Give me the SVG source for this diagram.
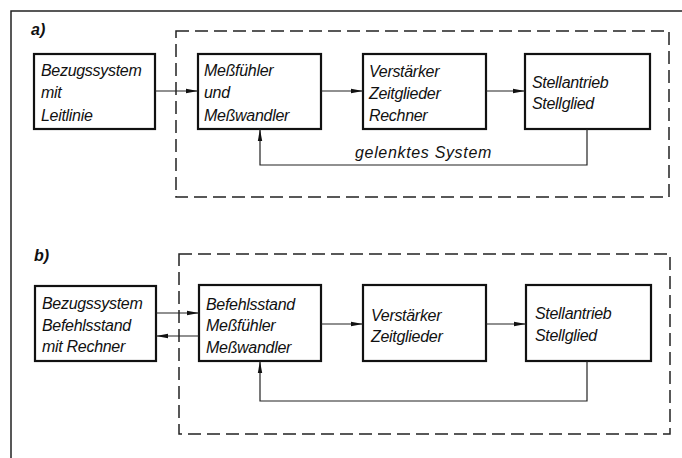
<svg xmlns="http://www.w3.org/2000/svg" width="682" height="458" viewBox="0 0 682 458">
<defs>
<style>
.box{fill:#fff;stroke:#111;stroke-width:2.2}
.dash{fill:none;stroke:#222;stroke-width:1.5;stroke-dasharray:13 6}
.frame{fill:none;stroke:#222;stroke-width:1.5}
.con{fill:none;stroke:#222;stroke-width:1.2}
text{font-family:"Liberation Sans",Arial,sans-serif;font-style:italic;font-size:16px;letter-spacing:-0.3px;fill:#111}
.lbl{font-weight:bold;font-size:16px;letter-spacing:0}
</style>
<marker id="ah" viewBox="0 0 12 6" refX="12" refY="3" markerWidth="12" markerHeight="6" markerUnits="userSpaceOnUse" orient="auto">
<path d="M0,0.8 L12,3 L0,5.2 Z" fill="#111"/>
</marker>
</defs>
<rect width="682" height="458" fill="#fff"/>
<path class="frame" d="M11,458 V11 H682"/>

<text class="lbl" x="31" y="35">a)</text>
<rect class="dash" x="176" y="31" width="493" height="166"/>
<g id="a1"><rect class="box" x="34" y="54" width="121" height="75"/>
<text x="41" y="76">Bezugssystem</text><text x="41" y="98">mit</text><text x="41" y="121">Leitlinie</text></g>
<g id="a2"><rect class="box" x="198" y="54" width="123" height="75"/>
<text x="204" y="76">Meßfühler</text><text x="204" y="98">und</text><text x="204" y="121">Meßwandler</text></g>
<g id="a3"><rect class="box" x="363" y="54" width="123" height="75"/>
<text x="369" y="77">Verstärker</text><text x="369" y="99">Zeitglieder</text><text x="369" y="121">Rechner</text></g>
<g id="a4"><rect class="box" x="525" y="54" width="125" height="75"/>
<text x="532" y="88">Stellantrieb</text><text x="532" y="109">Stellglied</text></g>
<text x="355" y="158" textLength="136" lengthAdjust="spacing">gelenktes System</text>

<text class="lbl" x="34" y="261">b)</text>
<rect class="dash" x="179" y="254" width="491" height="180"/>
<g id="b1"><rect class="box" x="35" y="286" width="121" height="75"/>
<text x="42" y="309">Bezugssystem</text><text x="42" y="331">Befehlsstand</text><text x="42" y="352">mit Rechner</text></g>
<g id="b2"><rect class="box" x="199" y="285" width="122" height="76"/>
<text x="206" y="310">Befehlsstand</text><text x="206" y="331">Meßfühler</text><text x="206" y="353">Meßwandler</text></g>
<g id="b3"><rect class="box" x="363" y="285" width="123" height="76"/>
<text x="371" y="321">Verstärker</text><text x="371" y="342">Zeitglieder</text></g>
<g id="b4"><rect class="box" x="526" y="285" width="125" height="76"/>
<text x="535" y="319">Stellantrieb</text><text x="535" y="341">Stellglied</text></g>

<g id="connectors">
<path class="con" marker-end="url(#ah)" d="M155,91 H198"/>
<path class="con" marker-end="url(#ah)" d="M321,91 H363"/>
<path class="con" marker-end="url(#ah)" d="M486,91 H525"/>
<path class="con" marker-end="url(#ah)" d="M587,129 V165 H260 V129"/>
<path class="con" marker-end="url(#ah)" d="M156,313 H199"/>
<path class="con" marker-end="url(#ah)" d="M199,336 H156"/>
<path class="con" marker-end="url(#ah)" d="M321,324 H363"/>
<path class="con" marker-end="url(#ah)" d="M486,324 H526"/>
<path class="con" marker-end="url(#ah)" d="M587,361 V401 H260 V361"/>
</g>
</svg>
